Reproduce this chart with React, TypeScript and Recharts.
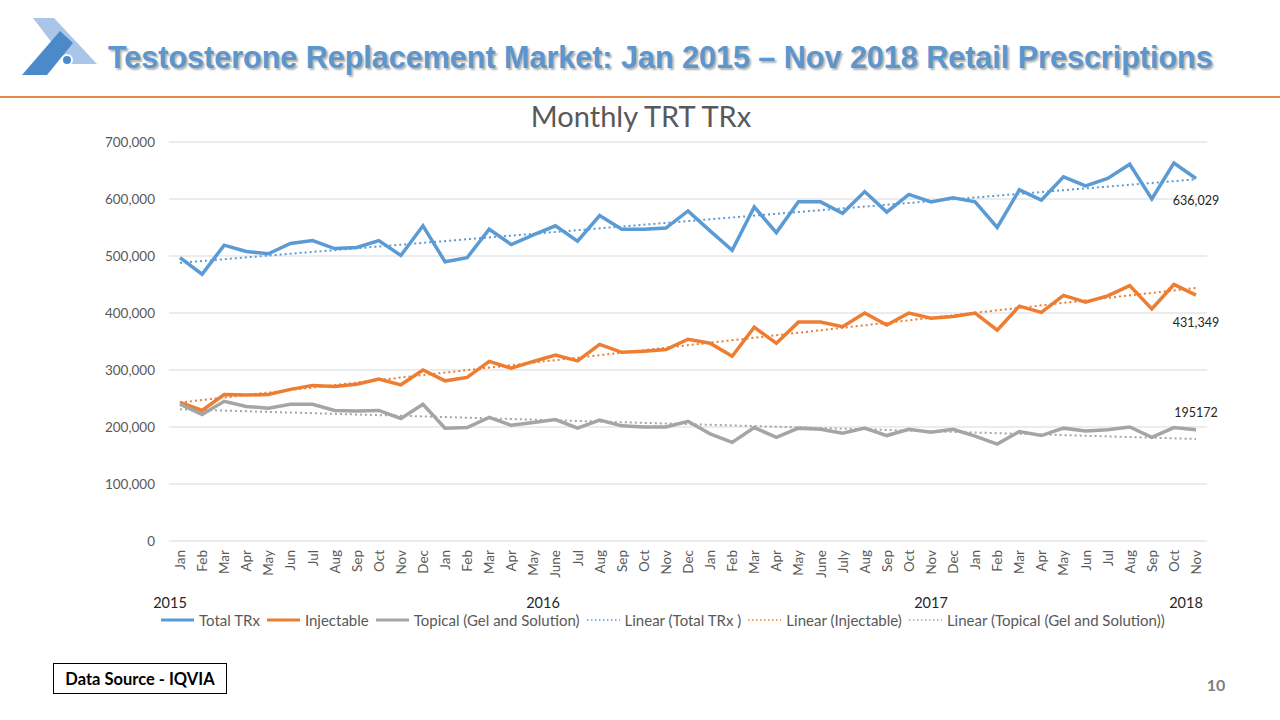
import { CartesianGrid, LabelList, Line, LineChart, XAxis, YAxis } from 'recharts';

const FONT = "Lato, 'Noto Sans', sans-serif";
const BLUE = '#5B9BD5';
const ORANGE = '#ED7D31';
const GRAY = '#A5A5A5';

const months2015 = ['Jan', 'Feb', 'Mar', 'Apr', 'May', 'Jun', 'Jul', 'Aug', 'Sep', 'Oct', 'Nov', 'Dec'];
const months2016 = ['Jan', 'Feb', 'Mar', 'Apr', 'May', 'June', 'Jul', 'Aug', 'Sep', 'Oct', 'Nov', 'Dec'];
const months2017 = ['Jan', 'Feb', 'Mar', 'Apr', 'May', 'June', 'July', 'Aug', 'Sep', 'Oct', 'Nov', 'Dec'];
const months2018 = ['Jan', 'Feb', 'Mar', 'Apr', 'May', 'Jun', 'Jul', 'Aug', 'Sep', 'Oct', 'Nov'];

const years = ['2015', '2016', '2017', '2018'];

const totalTrx = [
    497000, 468000, 519000, 508000, 504000, 522000, 527000, 513000, 515000, 527000, 501000, 553000,
    490000, 497000, 547000, 520000, 537000, 553000, 526000, 571000, 547000, 547000, 549000, 579000,
    544000, 510000, 586000, 541000, 595000, 595000, 575000, 613000, 577000, 608000, 595000, 602000,
    595000, 550000, 616000, 598000, 639000, 623000, 636000, 661000, 600000, 663000, 636029,
];

const injectable = [
    243000, 229000, 257000, 256000, 257000, 266000, 273000, 271000, 275000, 284000, 274000, 300000,
    281000, 287000, 315000, 303000, 315000, 326000, 316000, 345000, 331000, 333000, 336000, 354000,
    347000, 324000, 375000, 347000, 384000, 384000, 376000, 400000, 379000, 400000, 391000, 394000,
    400000, 370000, 412000, 401000, 431000, 419000, 430000, 448000, 407000, 450000, 431349,
];

const topical = [
    240000, 222000, 245000, 236000, 233000, 240000, 240000, 229000, 228000, 229000, 215000, 240000,
    198000, 199000, 217000, 203000, 208000, 213000, 198000, 212000, 202000, 200000, 200000, 210000,
    188000, 173000, 199000, 182000, 198000, 196000, 189000, 198000, 185000, 196000, 191000, 196000,
    184000, 170000, 192000, 185000, 198000, 193000, 195000, 200000, 182000, 199000, 195172,
];

// start / end values of the linear trendlines
const totalTrend = [488000, 634500];
const injectableTrend = [243000, 444000];
const topicalTrend = [231000, 179000];

const yTicks = [0, 100000, 200000, 300000, 400000, 500000, 600000, 700000];

const monthRows = [
    ...months2015.map((m) => ({ year: '2015', month: m })),
    ...months2016.map((m) => ({ year: '2016', month: m })),
    ...months2017.map((m) => ({ year: '2017', month: m })),
    ...months2018.map((m) => ({ year: '2018', month: m })),
];
const last = monthRows.length - 1;

const trendValue = (trend: number[], i: number) =>
    i === 0 ? trend[0] : i === last ? trend[1] : null;

const data = monthRows.map((row, i) => ({
    key: `${row.year} ${row.month}`,
    month: row.month,
    total: totalTrx[i],
    injectable: injectable[i],
    topical: topical[i],
    totalTrend: trendValue(totalTrend, i),
    injectableTrend: trendValue(injectableTrend, i),
    topicalTrend: trendValue(topicalTrend, i),
}));

const legendItems = [
    { name: 'Total TRx', color: BLUE, dotted: false },
    { name: 'Injectable', color: ORANGE, dotted: false },
    { name: 'Topical (Gel and Solution)', color: GRAY, dotted: false },
    { name: 'Linear (Total TRx )', color: BLUE, dotted: true },
    { name: 'Linear (Injectable)', color: ORANGE, dotted: true },
    { name: 'Linear (Topical (Gel and Solution))', color: GRAY, dotted: true },
];

// year labels sit under the month ticks like Excel's multi-level axis
const yearLabelX = [170, 543, 931, 1186];

function MonthTick({ x, y, payload }: any) {
    const label = String(payload.value).split(' ')[1];
    return (
        <text
            x={x}
            y={y}
            transform={`rotate(-90 ${x} ${y})`}
            textAnchor="end"
            dominantBaseline="central"
            fontSize={13.5}
            fontFamily={FONT}
            fill="#595959"
        >
            {label}
        </text>
    );
}

function endLabel(dy: number, format: (v: number) => string) {
    return (props: any) => {
        if (props.index !== last) return null;
        return (
            <text
                x={props.x}
                y={props.y + dy}
                textAnchor="middle"
                dominantBaseline="central"
                fontSize={12.5}
                fontFamily={FONT}
                fill="#262626"
            >
                {format(Number(props.value))}
            </text>
        );
    };
}

const withComma = (v: number) => v.toLocaleString('en-US');

function Logo() {
    return (
        <svg width={110} height={90} style={{ position: 'absolute', left: 0, top: 0 }}>
            <polygon points="33,18 54,18 97,64 68,64" fill="#A9C6E9" />
            <polygon points="60,31 73,43 47,75 22,75" fill="#4A8ACB" />
            <circle cx={67} cy={60} r={5} fill="#4A8ACB" stroke="#fff" strokeWidth={2} />
        </svg>
    );
}

function ChartLegend() {
    return (
        <div
            style={{
                position: 'absolute',
                left: 160,
                top: 611,
                display: 'flex',
                alignItems: 'center',
                fontFamily: FONT,
                fontSize: 15,
                color: '#595959',
                whiteSpace: 'nowrap',
            }}
        >
            {legendItems.map((item) => (
                <div key={item.name} style={{ display: 'flex', alignItems: 'center', marginRight: 6 }}>
                    <svg width={35} height={10} style={{ marginRight: 4 }}>
                        <line
                            x1={1}
                            y1={5}
                            x2={34}
                            y2={5}
                            stroke={item.color}
                            strokeWidth={item.dotted ? 1.5 : 3}
                            strokeDasharray={item.dotted ? '1.5 2.5' : undefined}
                        />
                    </svg>
                    <span>{item.name}</span>
                </div>
            ))}
        </div>
    );
}

export default function App() {
    return (
        <div
            style={{
                position: 'absolute',
                left: 0,
                top: 0,
                width: 1280,
                height: 720,
                background: '#fff',
                overflow: 'hidden',
            }}
        >
            <Logo />
            <div
                style={{
                    position: 'absolute',
                    left: 108,
                    top: 40,
                    fontFamily: "'Liberation Sans', Arial, sans-serif",
                    fontWeight: 'bold',
                    fontSize: 30.5,
                    color: '#5B96CF',
                    textShadow: '2px 2px 2px rgba(0,0,0,0.3)',
                    whiteSpace: 'nowrap',
                    lineHeight: '34px',
                }}
            >
                Testosterone Replacement Market: Jan 2015 – Nov 2018 Retail Prescriptions
            </div>
            <div
                style={{
                    position: 'absolute',
                    left: 0,
                    top: 96,
                    width: 1280,
                    height: 2,
                    background: '#E2874A',
                }}
            />
            <div
                style={{
                    position: 'absolute',
                    left: 0,
                    width: 1282,
                    top: 99,
                    textAlign: 'center',
                    fontFamily: FONT,
                    fontSize: 29,
                    color: '#595959',
                    lineHeight: '34px',
                }}
            >
                Monthly TRT TRx
            </div>

            <div style={{ position: 'absolute', left: 0, top: 0 }}>
                <LineChart
                    width={1280}
                    height={720}
                    data={data}
                    margin={{ top: 142, right: 73, bottom: 139, left: 90 }}
                >
                    <CartesianGrid stroke="#D9D9D9" vertical={false} />
                    <XAxis
                        dataKey="key"
                        interval={0}
                        height={40}
                        tickLine={false}
                        axisLine={false}
                        tickSize={0}
                        tickMargin={9}
                        padding={{ left: 11, right: 11 }}
                        tick={<MonthTick />}
                    />
                    <YAxis
                        width={79}
                        domain={[0, 700000]}
                        ticks={yTicks}
                        tickLine={false}
                        axisLine={false}
                        tickSize={0}
                        tickMargin={14}
                        tickFormatter={(v: number) => v.toLocaleString('en-US')}
                        tick={{ fontSize: 13.5, fill: '#595959', fontFamily: FONT }}
                    />
                    <Line
                        dataKey="totalTrend"
                        stroke={BLUE}
                        strokeWidth={2}
                        strokeDasharray="2 3"
                        dot={false}
                        connectNulls
                        isAnimationActive={false}
                    />
                    <Line
                        dataKey="injectableTrend"
                        stroke={ORANGE}
                        strokeWidth={2}
                        strokeDasharray="2 3"
                        dot={false}
                        connectNulls
                        isAnimationActive={false}
                    />
                    <Line
                        dataKey="topicalTrend"
                        stroke={GRAY}
                        strokeWidth={2}
                        strokeDasharray="2 3"
                        dot={false}
                        connectNulls
                        isAnimationActive={false}
                    />
                    <Line
                        dataKey="total"
                        stroke={BLUE}
                        strokeWidth={3.5}
                        strokeLinejoin="miter"
                        dot={false}
                        isAnimationActive={false}
                    >
                        <LabelList dataKey="total" content={endLabel(22, withComma)} />
                    </Line>
                    <Line
                        dataKey="injectable"
                        stroke={ORANGE}
                        strokeWidth={3.5}
                        strokeLinejoin="miter"
                        dot={false}
                        isAnimationActive={false}
                    >
                        <LabelList dataKey="injectable" content={endLabel(27, withComma)} />
                    </Line>
                    <Line
                        dataKey="topical"
                        stroke={GRAY}
                        strokeWidth={3.5}
                        strokeLinejoin="miter"
                        dot={false}
                        isAnimationActive={false}
                    >
                        <LabelList dataKey="topical" content={endLabel(-17, (v) => String(v))} />
                    </Line>
                </LineChart>
            </div>

            {years.map((year, i) => (
                <div
                    key={year}
                    style={{
                        position: 'absolute',
                        left: yearLabelX[i] - 30,
                        width: 60,
                        top: 594,
                        textAlign: 'center',
                        fontFamily: FONT,
                        fontSize: 14.5,
                        color: '#262626',
                    }}
                >
                    {year}
                </div>
            ))}

            <ChartLegend />

            <div
                style={{
                    position: 'absolute',
                    left: 53,
                    top: 663,
                    width: 172,
                    height: 29,
                    border: '1px solid #000',
                    display: 'flex',
                    alignItems: 'center',
                    justifyContent: 'center',
                    fontFamily: FONT,
                    fontWeight: 'bold',
                    fontSize: 16.5,
                    color: '#000',
                }}
            >
                Data Source - IQVIA
            </div>
            <div
                style={{
                    position: 'absolute',
                    left: 1196,
                    top: 675,
                    width: 40,
                    textAlign: 'center',
                    fontFamily: FONT,
                    fontWeight: 'bold',
                    fontSize: 16,
                    color: '#7F7F7F',
                }}
            >
                10
            </div>
        </div>
    );
}
